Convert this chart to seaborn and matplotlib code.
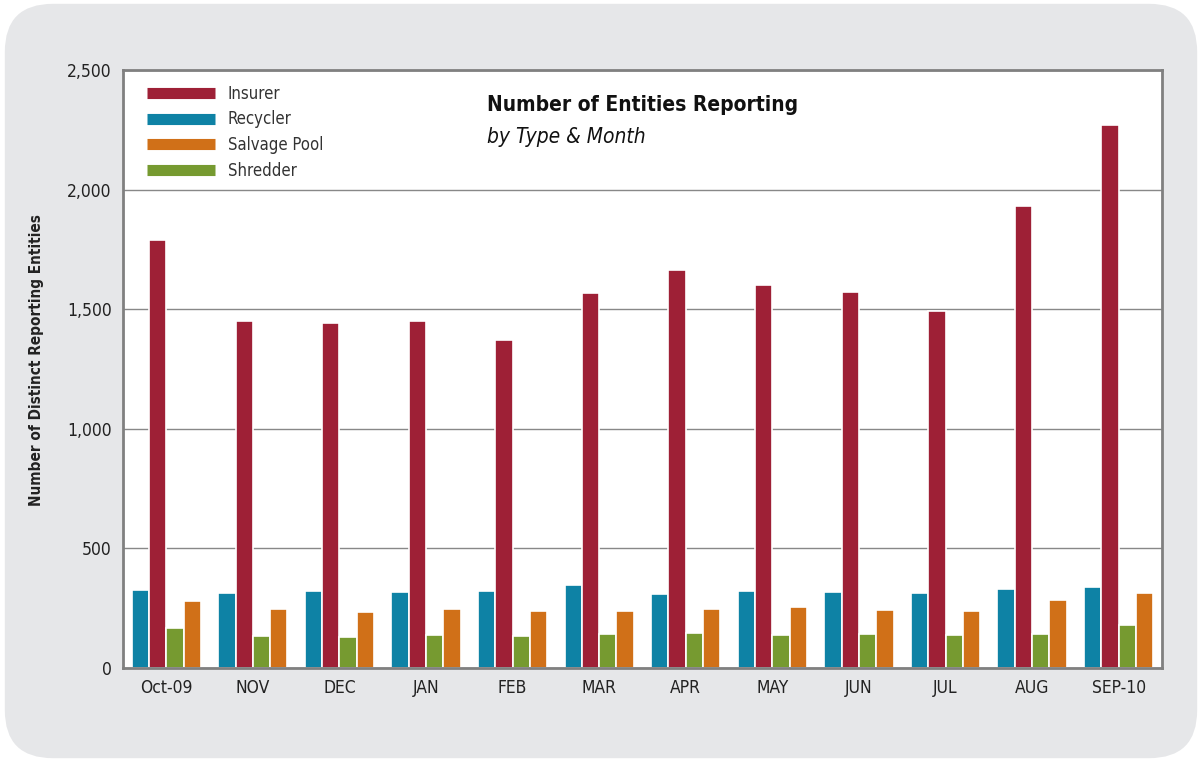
import pandas as pd
import seaborn as sns
import matplotlib.pyplot as plt
from matplotlib.patches import FancyBboxPatch
from matplotlib.lines import Line2D
from matplotlib.ticker import FuncFormatter

months = ["Oct-09", "NOV", "DEC", "JAN", "FEB", "MAR", "APR", "MAY", "JUN", "JUL", "AUG", "SEP-10"]
insurer = [1790, 1450, 1442, 1450, 1371, 1567, 1664, 1601, 1572, 1492, 1931, 2270]
recycler = [326, 313, 322, 318, 322, 347, 309, 322, 318, 313, 330, 339]
shredder = [167, 134, 130, 138, 134, 142, 146, 138, 142, 138, 142, 180]
salvage_pool = [280, 247, 234, 247, 238, 238, 247, 255, 242, 238, 284, 313]

colors = {
    "Insurer": "#9E2036",
    "Recycler": "#0E82A5",
    "Salvage Pool": "#D07018",
    "Shredder": "#769A30",
}

# 组装成长表给 seaborn 用
df = pd.DataFrame({
    "Month": months,
    "Insurer": insurer,
    "Recycler": recycler,
    "Shredder": shredder,
    "Salvage Pool": salvage_pool,
})
long_df = df.melt(id_vars="Month", var_name="Type", value_name="Count")

sns.set_style("white")
plt.rcParams["font.family"] = ["DejaVu Sans"]
plt.rcParams["font.stretch"] = "condensed"

fig = plt.figure(figsize=(12.02, 7.62), dpi=100)
fig.patch.set_facecolor("white")
bg = FancyBboxPatch((0.004, 0.005), 0.992, 0.99,
                    boxstyle="round,pad=0,rounding_size=0.04",
                    transform=fig.transFigure, facecolor="#E6E7E9",
                    edgecolor="none", zorder=-10, mutation_aspect=1202 / 762)
fig.patches.append(bg)

ax = fig.add_axes([0.1023, 0.1234, 0.8644, 0.7848])
ax.set_zorder(1)
ax.set_facecolor("white")

sns.barplot(
    data=long_df, x="Month", y="Count", hue="Type",
    hue_order=["Recycler", "Insurer", "Shredder", "Salvage Pool"],
    order=months, palette=colors, width=0.8,
    edgecolor="white", linewidth=1.2, saturation=1, legend=False, ax=ax,
)

ax.set_ylim(0, 2500)
ax.set_xlim(-0.5, len(months) - 0.5)
ax.set_yticks([0, 500, 1000, 1500, 2000, 2500])
ax.yaxis.set_major_formatter(FuncFormatter(lambda v, p: f"{int(v):,}"))
ax.yaxis.grid(True, color="#888888", linewidth=1)
ax.set_axisbelow(True)
for s in ax.spines.values():
    s.set_color("#808080")
    s.set_linewidth(2)
ax.tick_params(axis="both", length=0, labelsize=12.5, colors="#222222", pad=8)
ax.set_xlabel("")
ax.set_ylabel("Number of Distinct Reporting Entities", fontsize=11,
              fontweight="bold", color="#222222")
ax.yaxis.set_label_coords(-0.076, 0.515)

names = ["Insurer", "Recycler", "Salvage Pool", "Shredder"]
handles = [Line2D([0], [0], color=colors[k], lw=8, solid_capstyle="butt") for k in names]
ax.legend(handles, names,
          loc="upper left", bbox_to_anchor=(0.012, 0.995), frameon=False,
          fontsize=12, handlelength=4.1, handletextpad=0.75, labelspacing=0.47,
          borderaxespad=0.3, labelcolor="#333333")

ax.text(0.350, 0.9415, "Number of Entities Reporting", transform=ax.transAxes,
        fontsize=15, fontweight="bold", color="#111111", va="center")
ax.text(0.350, 0.888, "by Type & Month", transform=ax.transAxes,
        fontsize=15, fontstyle="italic", color="#111111", va="center")

fig.savefig("out.png", dpi=100)
